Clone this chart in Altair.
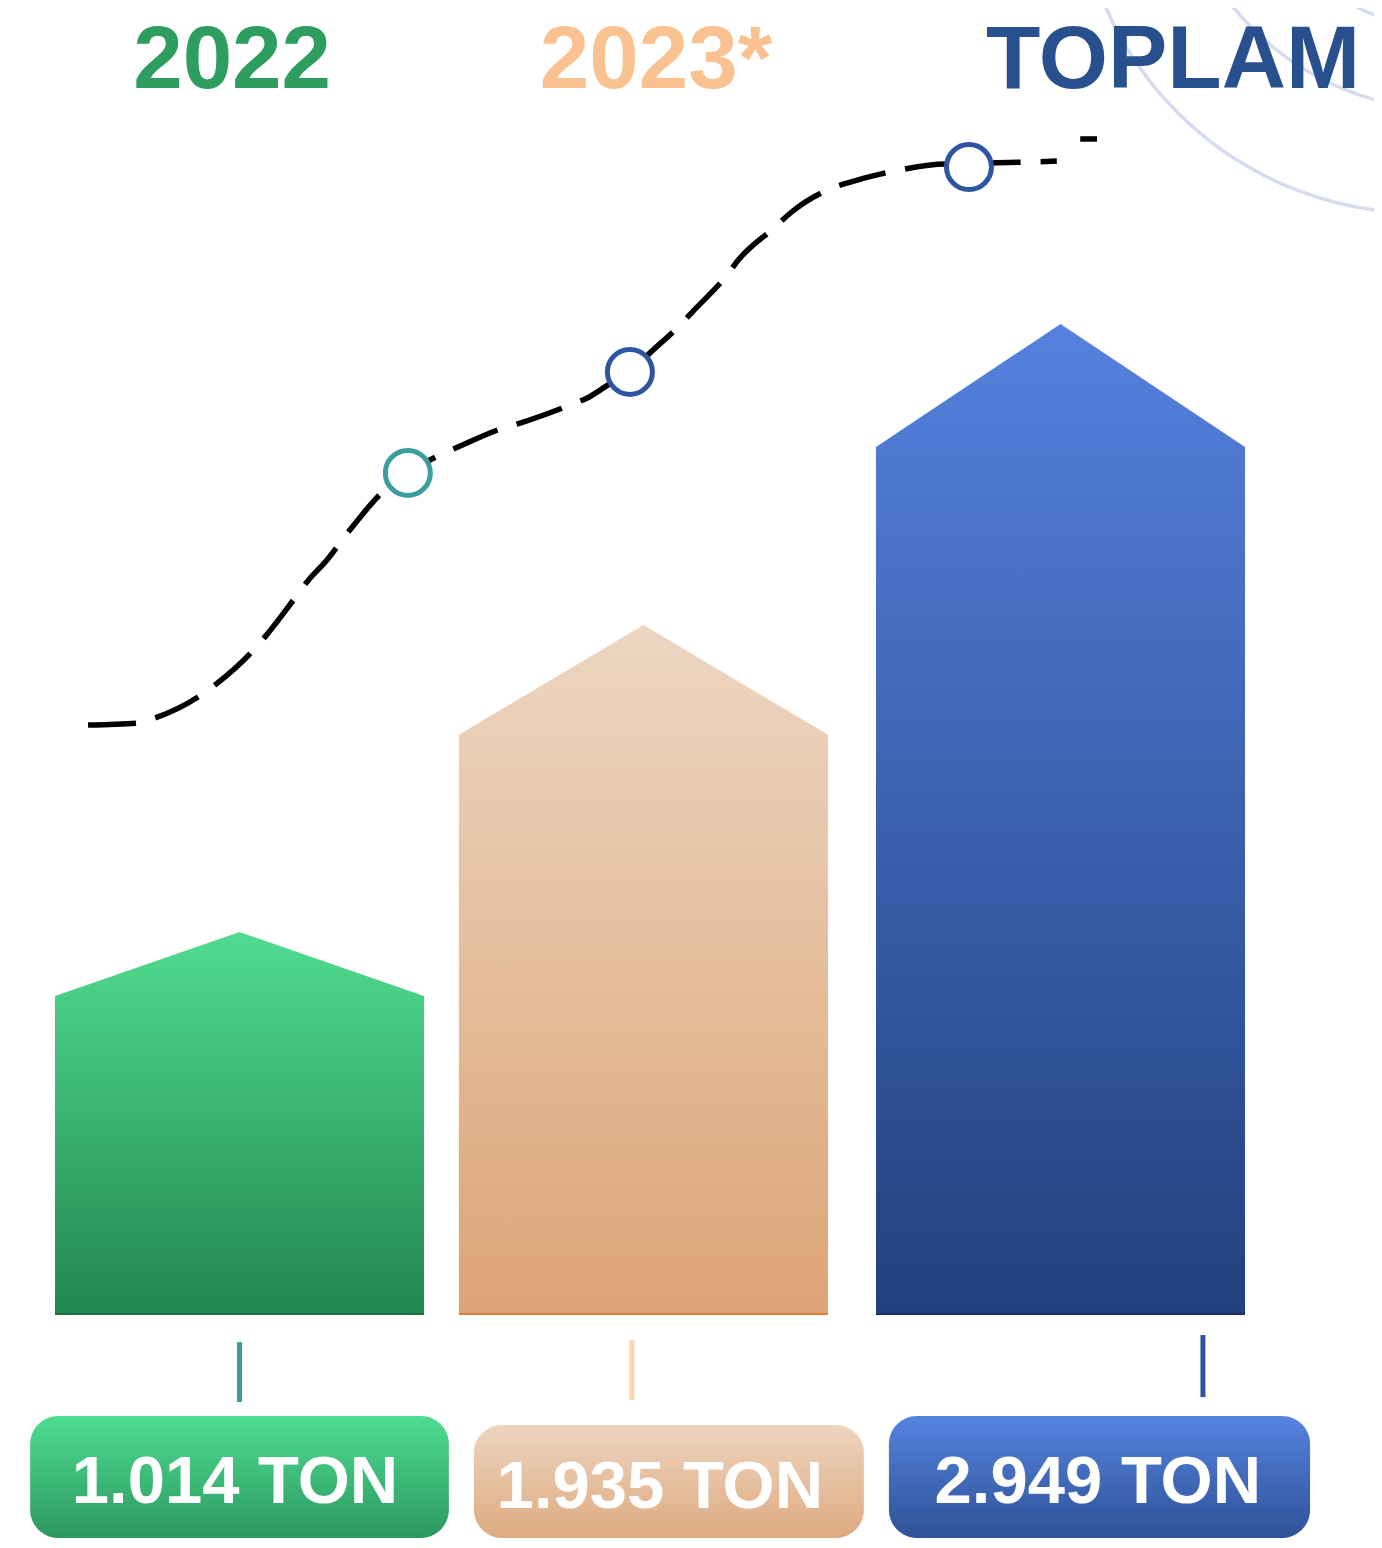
import altair as alt
import pandas as pd

# ---------------- data ----------------
categories = ["2022", "2023*", "TOPLAM"]
tons = [1014, 1935, 2949]
roof_peak = [1240, 2322, 3383]          # top of the roof of each house-shaped bar (ton units)
labels = ["1.014 TON", "1.935 TON", "2.949 TON"]

# dashed trend curve (x in category-index units, y in ton units)
trend_x = [-0.369, -0.250, -0.206, -0.101, -0.060, 0.030, 0.062, 0.135, 0.164, 0.213,
           0.269, 0.354, 0.410, 0.488, 0.532, 0.642, 0.691, 0.800, 0.847, 0.898,
           0.951, 1.000, 1.073, 1.103, 1.188, 1.215, 1.305, 1.342, 1.444, 1.488,
           1.609, 1.719, 1.777, 1.833, 1.938, 1.991]
trend_y = [1969, 1976, 1994, 2068, 2110, 2227, 2280, 2417, 2473, 2551,
           2657, 2798, 2858, 2921, 2949, 3016, 3037, 3094, 3122, 3168,
           3214, 3281, 3379, 3425, 3556, 3608, 3725, 3774, 3862, 3883,
           3926, 3947, 3944, 3950, 3954, 3957]
tail_x = [2.048, 2.089]
tail_y = [4035, 4035]

marker_x = [0.410, 0.951, 1.777]
marker_y = [2858, 3214, 3936]

# ---------------- layout / style ----------------
bar_center = [0.0, 0.984, 2.0]
BAR_HALF = 0.4495
BASE = -107
XDOM = [-0.564, 2.7637]
YDOM = [-903.4, 4496.6]

bar_top = ["#50DC90", "#EDD6C2", "#5581DD"]
bar_bottom = ["#22864F", "#DCA476", "#22407E"]
bar_edge = ["#1E6B40", "#D4803F", "#1B2F5E"]
box_top = ["#4EDD92", "#EDD5C0", "#5584DF"]
box_bottom = ["#2C985F", "#DEAA80", "#2F5197"]
title_color = ["#2E9E60", "#F9C290", "#284F8E"]
tick_color = ["#3A9E9E", "#FDD5B0", "#2E56A0"]
marker_color = ["#3A9E9E", "#2E56A0", "#2E56A0"]

title_x = [-0.018, 1.015, 2.274]
title_y = 4214
box_x1 = [-0.510, 0.571, 1.582]
box_x2 = [0.510, 1.521, 2.608]
box_y1 = [-466, -498, -466]
box_y2 = -896
label_x = [-0.011, 1.024, 2.091]
label_y = [-773, -791, -773]
tick_x = [0.0, 0.956, 2.347]
tick_y1 = [-206, -199, -181]
tick_y2 = [-417, -410, -400]

deco_x = [2.876, 2.949, 2.949]
deco_y = [4983, 5124, 5124]
deco_size = [470596, 313600, 160000]

FONT = "Liberation Sans"


def X(field):
    return alt.X(f"{field}:Q", scale=alt.Scale(domain=XDOM, nice=False, zero=False), axis=None)


def Y(field):
    return alt.Y(f"{field}:Q", scale=alt.Scale(domain=YDOM, nice=False, zero=False), axis=None)


def grad(top, bottom):
    return {"gradient": "linear", "x1": 0, "x2": 0, "y1": 0, "y2": 1,
            "stops": [{"offset": 0, "color": top}, {"offset": 1, "color": bottom}]}


layers = []

# decorative circles
deco = pd.DataFrame({"x": deco_x, "y": deco_y, "s": deco_size})
layers.append(
    alt.Chart(deco).mark_point(shape="circle", filled=False, color="#D6DBEF",
                               strokeWidth=3.5, opacity=1)
    .encode(x=X("x"), y=Y("y"), size=alt.Size("s:Q", scale=None))
)

# house-shaped bars
for i, (v, pk) in enumerate(zip(tons, roof_peak)):
    c = bar_center[i]
    df = pd.DataFrame({"x": [c - BAR_HALF, c, c + BAR_HALF], "y": [v, pk, v], "base": [BASE] * 3})
    layers.append(
        alt.Chart(df).mark_area(fill=grad(bar_top[i], bar_bottom[i]), opacity=1, interpolate="linear")
        .encode(x=X("x"), y=Y("y"), y2="base")
    )
    edge = pd.DataFrame({"x": [c - BAR_HALF], "x2": [c + BAR_HALF], "y": [BASE]})
    layers.append(
        alt.Chart(edge).mark_rule(color=bar_edge[i], strokeWidth=2)
        .encode(x=X("x"), x2="x2", y=Y("y"))
    )

# trend line
trend = pd.DataFrame({"x": trend_x + tail_x, "y": trend_y + tail_y,
                      "seg": ["a"] * len(trend_x) + ["b"] * len(tail_x)})
layers.append(
    alt.Chart(trend).mark_line(color="black", strokeWidth=5.5, strokeDash=[48, 20],
                               interpolate="monotone", strokeCap="butt")
    .encode(x=X("x"), y=Y("y"), detail="seg:N")
)

# markers
mk = pd.DataFrame({"x": marker_x, "y": marker_y, "c": marker_color})
layers.append(
    alt.Chart(mk).mark_point(shape="circle", filled=True, fill="white", size=2025,
                             strokeWidth=5, opacity=1)
    .encode(x=X("x"), y=Y("y"), stroke=alt.Stroke("c:N", scale=None))
)

# titles
tt = pd.DataFrame({"x": title_x, "y": [title_y] * 3, "t": categories, "c": title_color})
layers.append(
    alt.Chart(tt).mark_text(font=FONT, fontSize=89, fontWeight="bold", align="center",
                            baseline="alphabetic")
    .encode(x=X("x"), y=Y("y"), text="t:N", color=alt.Color("c:N", scale=None))
)

# connector ticks
tk = pd.DataFrame({"x": tick_x, "y": tick_y1, "y2": tick_y2, "c": tick_color})
layers.append(
    alt.Chart(tk).mark_rule(strokeWidth=5)
    .encode(x=X("x"), y=Y("y"), y2="y2", color=alt.Color("c:N", scale=None))
)

# value boxes
for i in range(3):
    bx = pd.DataFrame({"x": [box_x1[i]], "x2": [box_x2[i]], "y": [box_y1[i]], "y2": [box_y2]})
    layers.append(
        alt.Chart(bx).mark_rect(cornerRadius=28, fill=grad(box_top[i], box_bottom[i]), opacity=1)
        .encode(x=X("x"), x2="x2", y=Y("y"), y2="y2")
    )

lb = pd.DataFrame({"x": label_x, "y": label_y, "t": labels})
layers.append(
    alt.Chart(lb).mark_text(font=FONT, fontSize=67, fontWeight="bold", align="center",
                            baseline="alphabetic", color="white")
    .encode(x=X("x"), y=Y("y"), text="t:N")
)

chart = (
    alt.layer(*layers)
    .properties(width=1366, height=1532, padding=0,
                autosize=alt.AutoSizeParams(type="none"), background="white")
    .configure_view(stroke=None)
)

chart.save("out.html", embed_options={"renderer": "svg", "actions": False})
